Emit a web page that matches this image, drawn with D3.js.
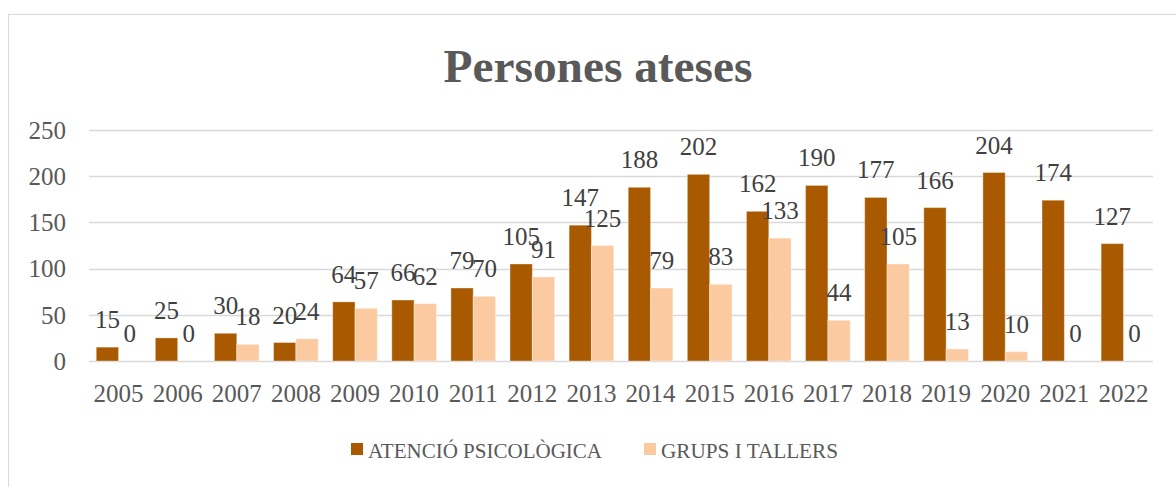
<!DOCTYPE html>
<html>
<head>
<meta charset="utf-8">
<script src="https://cdn.jsdelivr.net/npm/d3@7"></script>
<style>
  html, body { margin: 0; padding: 0; background: #fff; }
  svg { display: block; }
  text { font-family: "Liberation Serif", "DejaVu Serif", serif; }
</style>
</head>
<body>
<svg id="chart" width="1176" height="487"></svg>
<script>
const years = ["2005","2006","2007","2008","2009","2010","2011","2012","2013","2014","2015","2016","2017","2018","2019","2020","2021","2022"];
const atencio = [15,25,30,20,64,66,79,105,147,188,202,162,190,177,166,204,174,127];
const grups   = [0,0,18,24,57,62,70,91,125,79,83,133,44,105,13,10,0,0];
const seriesNames = ["ATENCIÓ PSICOLÒGICA", "GRUPS I TALLERS"];
const yTicks = [0,50,100,150,200,250];
const title = "Persones ateses";

const colors = ["#a95a00", "#fccaa1"];

const svg = d3.select("#chart");

// chart frame
svg.append("rect").attr("x", 8.5).attr("y", 14.5).attr("width", 1200).attr("height", 600)
  .attr("fill", "#fff").attr("stroke", "#d9d9d9").attr("stroke-width", 1);

// title
svg.append("text").attr("x", 598).attr("y", 82)
  .attr("text-anchor", "middle").attr("font-weight", "bold").attr("font-size", 46)
  .attr("fill", "#595959").attr("textLength", 309).attr("lengthAdjust", "spacingAndGlyphs")
  .text(title);

const x0 = d3.scaleBand().domain(years).range([89, 1153]).paddingInner(0.245).paddingOuter(0.1225);
const x1 = d3.scaleBand().domain([0,1]).range([0, x0.bandwidth()]);
const y = d3.scaleLinear().domain([0, 250]).range([361, 130]);

// gridlines
svg.append("g").selectAll("line").data(yTicks).join("line")
  .attr("x1", 89).attr("x2", 1153)
  .attr("y1", d => Math.round(y(d)) + 0.5).attr("y2", d => Math.round(y(d)) + 0.5)
  .attr("stroke", "#d9d9d9").attr("stroke-width", 1.3);

// y axis labels
const yAxis = d3.axisLeft(y).tickValues(yTicks).tickSize(0).tickPadding(0);
const gy = svg.append("g").attr("transform", "translate(66,0)").call(yAxis);
gy.select(".domain").remove();
gy.selectAll("text").attr("font-size", 25).attr("fill", "#595959")
  .attr("font-family", "Liberation Serif, serif").attr("dy", "0.33em");

// x axis labels
const xAxis = d3.axisBottom(x0).tickSize(0).tickPadding(0);
const gx = svg.append("g").attr("transform", "translate(0,384)").call(xAxis);
gx.select(".domain").remove();
gx.selectAll("text").attr("font-size", 25).attr("fill", "#595959")
  .attr("font-family", "Liberation Serif, serif").attr("dy", "0.72em");

// bars
const data = years.map((yr, i) => ({year: yr, vals: [atencio[i], grups[i]]}));
const groups = svg.append("g").selectAll("g").data(data).join("g")
  .attr("transform", d => `translate(${x0(d.year)},0)`);
groups.selectAll("rect").data(d => d.vals.map((v, k) => ({v, k}))).join("rect")
  .attr("x", d => x1(d.k)).attr("width", x1.bandwidth())
  .attr("y", d => y(d.v)).attr("height", d => y(0) - y(d.v))
  .attr("fill", d => colors[d.k])
  .attr("stroke", "#ffffff").attr("stroke-opacity", 0.35).attr("stroke-width", 1);

// data labels
groups.selectAll("text").data(d => d.vals.map((v, k) => ({v, k}))).join("text")
  .attr("x", d => x1(d.k) + x1.bandwidth() / 2)
  .attr("y", d => y(d.v) - 19)
  .attr("text-anchor", "middle").attr("font-size", 25).attr("fill", "#404040")
  .text(d => d.v);

// legend
const legendX = [351, 644];
const lg = svg.append("g").selectAll("g").data(seriesNames).join("g")
  .attr("transform", (d, i) => `translate(${legendX[i]},443)`);
lg.append("rect").attr("width", 12).attr("height", 12).attr("fill", (d, i) => colors[i]);
lg.append("text").attr("x", 17).attr("y", 15).attr("font-size", 22).attr("fill", "#595959")
  .attr("textLength", (d, i) => [234, 177][i]).attr("lengthAdjust", "spacingAndGlyphs")
  .text(d => d);
</script>
</body>
</html>
